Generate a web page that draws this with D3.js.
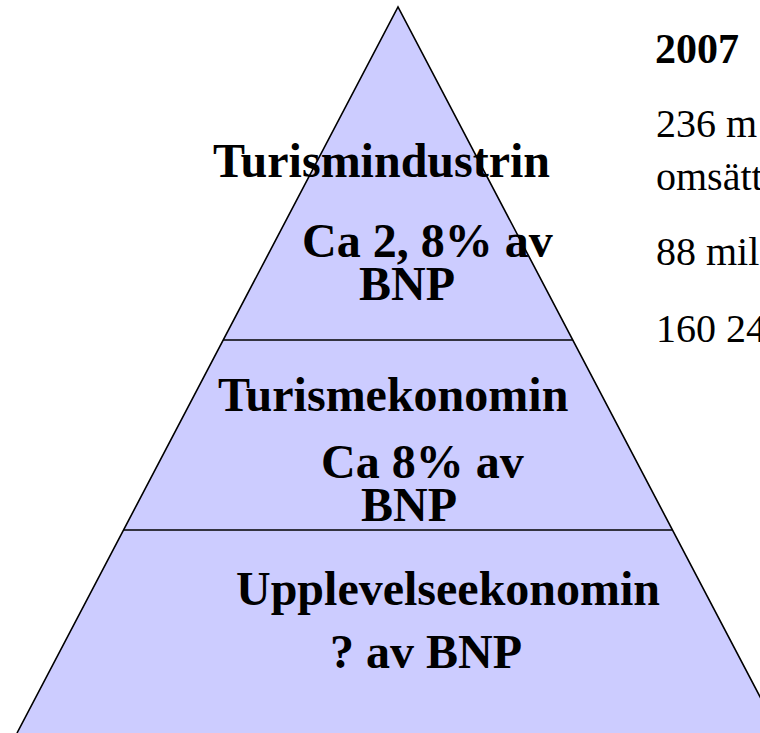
<!DOCTYPE html>
<html>
<head>
<meta charset="utf-8">
<script src="https://cdn.jsdelivr.net/npm/d3@7"></script>
<style>
  html, body { margin: 0; padding: 0; background: #fff; overflow: hidden; }
  svg { display: block; font-family: "Liberation Serif", "Times New Roman", serif; }
</style>
</head>
<body>
<div id="chart"></div>
<script>
// layers of the pyramid, top to bottom
var layerNames = ['Turismindustrin', 'Turismekonomin', 'Upplevelseekonomin'];
var layerShares = [['Ca 2, 8% av', 'BNP'], ['Ca 8% av', 'BNP'], ['? av BNP']];
// where each layer ends, as share of pyramid height (apex = 0)
var layerBreaks = [0.4587, 0.7204, 1];

// side notes, only the part that shows on the slide
var factYear = '2007';
var factLines = ['236 m', 'omsätt', '88 mil', '160 24'];

function Pyramid(container) {
  this.container = container;
  this.w = 760;
  this.h = 733;
  this.init();
}

Pyramid.prototype.init = function() {
  this.svg = d3.select(this.container)
    .append('svg')
    .attr('width', this.w)
    .attr('height', this.h);

  // depth 0..1 -> screen y, half width grows with depth
  this.y = d3.scaleLinear().domain([0, 1]).range([7, 733]);
  this.half = d3.scaleLinear().domain([0, 1]).range([0, 381]);
  this.cx = 398;

  this.drawPyramid();
  this.drawLabels();
  this.drawFacts();
}

Pyramid.prototype.drawPyramid = function() {
  var y = this.y, half = this.half, cx = this.cx;

  this.svg.append('path')
    .attr('d', d3.line()([
      [cx, y(0)], [cx + half(1), y(1)], [cx - half(1), y(1)]
    ]) + 'Z')
    .attr('fill', '#CCCCFF')
    .attr('stroke', 'none');

  this.svg.append('path')
    .attr('d', d3.line()([
      [cx - half(1), y(1)], [cx, y(0)], [cx + half(1), y(1)]
    ]))
    .attr('fill', 'none')
    .attr('stroke', '#000')
    .attr('stroke-width', 1.6);

  this.svg.selectAll('line.break')
    .data(layerBreaks.slice(0, -1))
    .enter().append('line')
    .attr('class', 'break')
    .attr('x1', function(d) { return cx - half(d); })
    .attr('x2', function(d) { return cx + half(d); })
    .attr('y1', function(d) { return y(d); })
    .attr('y2', function(d) { return y(d); })
    .attr('stroke', '#000')
    .attr('stroke-width', 1.6);
}

Pyramid.prototype.drawLabels = function() {
  // text boxes, hand placed like the slide
  var pos = [
    { name: [213, 177], lines: [[302, 257], [359, 300]] },
    { name: [218, 411], lines: [[321, 478], [361, 521]] },
    { name: [236, 605], lines: [[330, 668]] }
  ];

  var g = this.svg.append('g')
    .attr('font-weight', 'bold')
    .attr('font-size', 48)
    .attr('fill', '#000');

  layerNames.forEach(function(name, i) {
    g.append('text')
      .attr('x', pos[i].name[0])
      .attr('y', pos[i].name[1])
      .text(name);
    layerShares[i].forEach(function(line, j) {
      g.append('text')
        .attr('x', pos[i].lines[j][0])
        .attr('y', pos[i].lines[j][1])
        .text(line);
    });
  });
}

Pyramid.prototype.drawFacts = function() {
  var baselines = [137, 190, 265, 342];

  this.svg.append('text')
    .attr('x', 655)
    .attr('y', 63)
    .attr('font-weight', 'bold')
    .attr('font-size', 42)
    .text(factYear);

  this.svg.selectAll('text.fact')
    .data(factLines)
    .enter().append('text')
    .attr('class', 'fact')
    .attr('x', 656)
    .attr('y', function(d, i) { return baselines[i]; })
    .attr('font-size', 40)
    .text(function(d) { return d; });
}

new Pyramid('#chart');
</script>
</body>
</html>
